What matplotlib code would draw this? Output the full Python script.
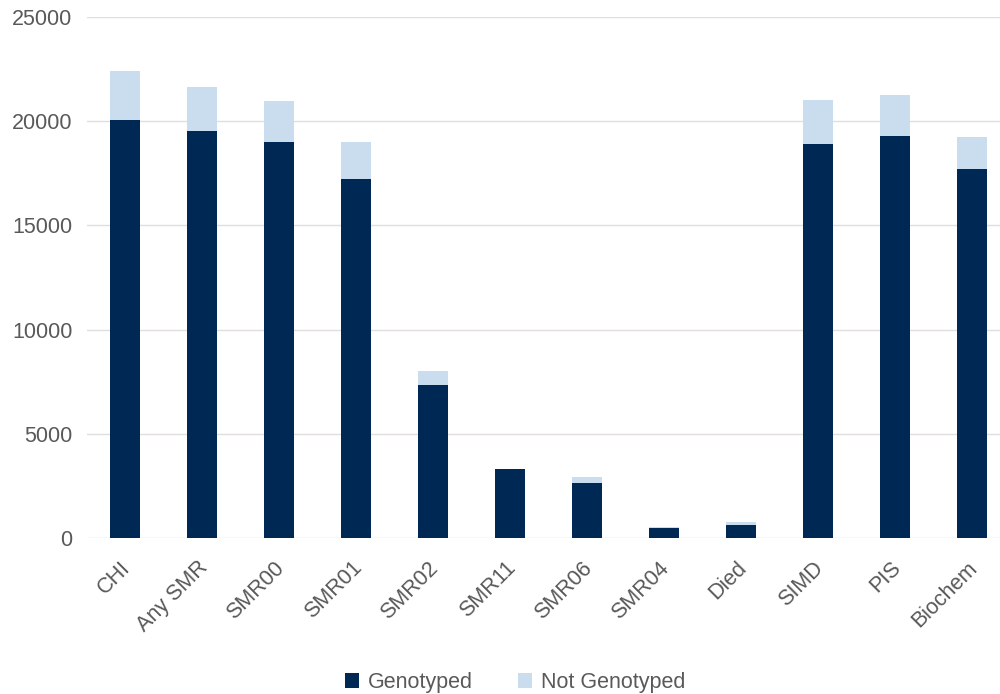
import matplotlib
matplotlib.use("Agg")
import matplotlib.pyplot as plt
import matplotlib.transforms as mtransforms
import numpy as np

categories = ["CHI", "Any SMR", "SMR00", "SMR01", "SMR02", "SMR11", "SMR06",
              "SMR04", "Died", "SIMD", "PIS", "Biochem"]
genotyped = [20060, 19550, 18990, 17210, 7360, 3310, 2640, 495, 620, 18890, 19290, 17710]
not_genotyped = [2350, 2090, 1980, 1780, 640, 0, 290, 20, 150, 2140, 1980, 1520]
yticks = [0, 5000, 10000, 15000, 20000, 25000]

dark = "#002855"
light = "#c9ddee"
text_col = "#595959"
fs = 15.5

plt.rcParams['font.family'] = ['Liberation Sans', 'DejaVu Sans']

fig = plt.figure(figsize=(10, 6.94), dpi=100)
ax = fig.add_axes([0.0865, 0.2248, 0.924, 0.7507])

x = np.arange(len(categories))
w = 0.40
b1 = ax.bar(x, genotyped, width=w, color=dark, label="Genotyped", zorder=3)
b2 = ax.bar(x, not_genotyped, width=w, bottom=genotyped, color=light,
            label="Not Genotyped", zorder=3)

ax.set_xlim(-0.5, len(categories) - 0.5)
ax.set_ylim(0, 25000)
ax.set_yticks(yticks)
ax.set_yticklabels([str(t) for t in yticks], fontsize=fs, color=text_col)
ax.yaxis.grid(True, color="#e3dede", linewidth=1, zorder=0)
ax.set_axisbelow(True)
for s in ax.spines.values():
    s.set_visible(False)
ax.tick_params(axis='both', length=0)
ax.tick_params(axis='y', pad=10)
ax.set_xticks(x)
ax.set_xticklabels(categories, rotation=45, ha='right', rotation_mode='anchor',
                   fontsize=fs, color=text_col)
ax.tick_params(axis='x', pad=14)
offset = mtransforms.ScaledTranslation(-0.05, 0, fig.dpi_scale_trans)
for lbl in ax.get_xticklabels():
    lbl.set_transform(lbl.get_transform() + offset)

leg = fig.legend(handles=[b1, b2], labels=["Genotyped", "Not Genotyped"],
                 loc='center', bbox_to_anchor=(0.515, 0.017), ncol=2, frameon=False,
                 fontsize=fs, handlelength=0.65, handleheight=0.7,
                 columnspacing=2.1, handletextpad=0.42, borderpad=0.2)
for t in leg.get_texts():
    t.set_color(text_col)

fig.savefig("out.png", dpi=100)
